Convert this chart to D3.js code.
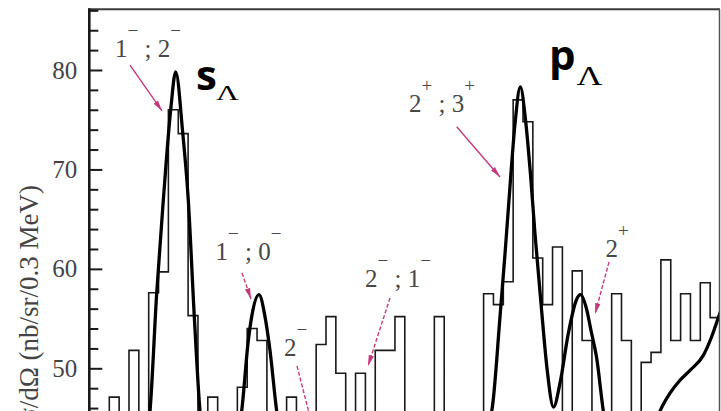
<!DOCTYPE html>
<html>
<head>
<meta charset="utf-8">
<script src="https://cdn.jsdelivr.net/npm/d3@7"></script>
<style>
  html, body { margin: 0; padding: 0; background: #fff; }
  svg { display: block; }
</style>
</head>
<body>
<svg id="chart" width="721" height="411"></svg>
<script>
// Missing-energy window (MeV) and histogram binning
const energyRange = [-14.0, 5.2];
const binWidth = 0.3;

// Measured cross section per 0.3 MeV bin (nb/sr/0.3 MeV)
const histCounts = [
  43.0, 44.0, 47.1, 44.0, 51.8, 45.0, 57.6, 59.7, 76.0, 73.6,
  55.3, 44.0, 47.1, 43.0, 44.0, 48.1, 54.0, 52.8, 44.0, 42.0,
  47.1, 44.0, 43.0, 52.4, 55.2, 49.5, 45.0, 49.5, 44.0, 51.8,
  51.8, 55.2, 44.0, 42.0, 43.0, 55.2, 44.0, 42.0, 43.0, 45.0,
  57.5, 56.4, 58.7, 77.0, 74.8, 61.1, 56.4, 62.2, 44.0, 59.8,
  52.8, 44.0, 45.0, 57.5, 52.8, 44.0, 50.6, 51.6, 60.9, 52.8,
  57.5, 52.8, 58.6, 55.1
];

// Fitted line shape
const fitEnergy = [
  -14.0, -12.77, -12.374, -12.16, -11.956, -11.755, -11.53, -11.378, -11.164, -10.994,
  -10.811, -10.638, -10.424, -9.968, -9.572, -9.368, -9.166, -9.063, -8.841, -8.658,
  -8.506, -8.302, -8.079, -7.592, -7.135, -6.526, -5.521, -4.546, -3.328, -2.262,
  -1.753, -1.50, -1.348, -1.196, -1.043, -0.882, -0.724, -0.572, -0.434, -0.251,
  -0.069, 0.129, 0.327, 0.580, 0.829, 0.951, 1.140, 1.271, 1.445, 1.646,
  1.911, 2.459, 3.007, 3.373, 3.677, 3.982, 4.287, 4.692, 4.948, 5.149, 5.353
];
const fitValue = [
  41.0, 41.0, 41.5, 45.7, 57.6, 66.9, 76.0, 79.8, 73.7, 66.9,
  55.2, 45.7, 41.3, 40.5, 42.0, 45.7, 52.8, 55.2, 57.4, 55.2,
  51.8, 45.7, 41.5, 41.5, 43.0, 41.5, 43.5, 41.5, 40.5, 41.5,
  45.7, 55.2, 61.5, 68.3, 74.6, 78.3, 75.0, 69.5, 63.5, 56.5,
  50.0, 46.1, 48.5, 53.5, 56.9, 57.4, 55.9, 53.8, 51.0, 45.7,
  41.0, 39.5, 42.0, 45.7, 47.5, 48.8, 49.8, 51.3, 53.2, 55.1, 57.0
];

// Y axis ticks
const majorTicks = [50, 60, 70, 80];
const minorTicks = [46, 48, 52, 54, 56, 58, 62, 64, 66, 68, 72, 74, 76, 78, 82, 84, 86];
const yTitle = "dσ/dΩ (nb/sr/0.3 MeV)";

// Spin-parity assignments: label pieces, label anchor, arrow tail and tip (energy, value)
const stateLabels = [
  { parts: [["1", 0], ["−", 1], [" ; ", 0], ["2", 0], ["−", 1]], at: [-13.226, 81.31], tail: [-12.770, 80.50], tip: [-11.795, 75.88], dashed: false },
  { parts: [["1", 0], ["−", 1], [" ; ", 0], ["0", 0], ["−", 1]], at: [-10.165, 60.89], tail: [-9.358, 59.58], tip: [-9.084, 56.97], dashed: true },
  { parts: [["2", 0], ["−", 1]], at: [-8.079, 51.24], tail: [-7.683, 50.23], tip: [-7.105, 42.79], dashed: true },
  { parts: [["2", 0], ["−", 1], [" ; ", 0], ["1", 0], ["−", 1]], at: [-5.612, 58.18], tail: [-4.851, 57.07], tip: [-5.521, 50.23], dashed: true },
  { parts: [["2", 0], ["+", 1], [" ; ", 0], ["3", 0], ["+", 1]], at: [-4.272, 75.81], tail: [-2.819, 74.30], tip: [-1.500, 69.24], dashed: false },
  { parts: [["2", 0], ["+", 1]], at: [1.713, 61.22], tail: [1.820, 60.69], tip: [1.393, 55.46], dashed: true }
];

// Shell labels for the Lambda orbit
const shellLabels = [
  { orbit: "s", at: [-10.759, 77.99], sub: { size: 22, len: 23, dy: 10, dx: -1 } },
  { orbit: "p", at: [-0.010, 80.0], sub: { size: 28, len: 26, dy: 15, dx: 1 } }
];

const svg = d3.select("#chart");
const W = 721, H = 411;
const plot = { left: 89.6, right: 720, top: 9.3 };

const x = d3.scaleLinear().domain(energyRange).range([plot.left, plot.right]);
const y = d3.scaleLinear().domain([50, 80]).range([368.3, 70]);

svg.append("rect").attr("width", W).attr("height", H).attr("fill", "#fff");

svg.append("defs").append("clipPath").attr("id", "plotClip")
  .append("rect")
  .attr("x", plot.left).attr("y", plot.top)
  .attr("width", plot.right - plot.left).attr("height", 600);

const magenta = "#c53a7c";
svg.select("defs").append("marker")
  .attr("id", "arrowHead")
  .attr("viewBox", "0 0 10 6")
  .attr("refX", 10).attr("refY", 3)
  .attr("markerWidth", 11).attr("markerHeight", 6.5)
  .attr("markerUnits", "userSpaceOnUse")
  .attr("orient", "auto")
  .append("path")
  .attr("d", "M0,0.5 L10,3 L0,5.5 Z")
  .attr("fill", magenta);

// Histogram (step outline)
const histPoints = histCounts.map((v, i) => [energyRange[0] + i * binWidth, v]);
histPoints.push([energyRange[0] + histCounts.length * binWidth, histCounts[histCounts.length - 1]]);

const g = svg.append("g").attr("clip-path", "url(#plotClip)");

g.append("path")
  .datum(histPoints)
  .attr("fill", "none")
  .attr("stroke", "#1a1a1a")
  .attr("stroke-width", 1.6)
  .attr("d", d3.line().x(d => x(d[0])).y(d => y(d[1])).curve(d3.curveStepAfter));

// Fit curve
const fitPoints = fitEnergy.map((e, i) => [e, fitValue[i]]);
g.append("path")
  .datum(fitPoints)
  .attr("fill", "none")
  .attr("stroke", "#000")
  .attr("stroke-width", 3.3)
  .attr("stroke-linejoin", "round")
  .attr("d", d3.line().x(d => x(d[0])).y(d => y(d[1])).curve(d3.curveMonotoneX));

// Frame
svg.append("line")
  .attr("x1", plot.left - 1).attr("x2", plot.right).attr("y1", plot.top).attr("y2", plot.top)
  .attr("stroke", "#3a3a3a").attr("stroke-width", 2);
svg.append("line")
  .attr("x1", 719.5).attr("x2", 719.5).attr("y1", plot.top).attr("y2", H)
  .attr("stroke", "#555").attr("stroke-width", 1.5);
svg.append("line")
  .attr("x1", 89.3).attr("x2", 89.3).attr("y1", plot.top - 1).attr("y2", H)
  .attr("stroke", "#1a1a1a").attr("stroke-width", 2.6);

// Y axis: major ticks with labels, minor ticks inside the frame
const axisG = svg.append("g").attr("transform", "translate(89.3,0)");
const majorAxis = axisG.append("g").call(
  d3.axisLeft(y).tickValues(majorTicks).tickSize(-13).tickPadding(12).tickFormat(d3.format("d"))
);
axisG.append("g").call(
  d3.axisLeft(y).tickValues(minorTicks).tickSize(-9).tickFormat("")
);
axisG.selectAll(".domain").remove();
axisG.selectAll(".tick line").attr("stroke", "#1a1a1a").attr("stroke-width", 2);
majorAxis.selectAll(".tick text")
  .attr("font-family", "'Liberation Serif', 'Times New Roman', serif")
  .attr("font-size", 25)
  .attr("fill", "#444");

// Y axis title
svg.append("text")
  .attr("transform", "translate(38,185) rotate(-90)")
  .attr("text-anchor", "end")
  .attr("font-family", "'Liberation Serif', 'Times New Roman', serif")
  .attr("font-size", 27)
  .attr("fill", "#444")
  .text(yTitle);

// Spin-parity labels with arrows
stateLabels.forEach(s => {
  svg.append("line")
    .attr("x1", x(s.tail[0])).attr("y1", y(s.tail[1]))
    .attr("x2", x(s.tip[0])).attr("y2", y(s.tip[1]))
    .attr("stroke", magenta)
    .attr("stroke-width", 1.4)
    .attr("stroke-dasharray", s.dashed ? "4,2" : null)
    .attr("marker-end", "url(#arrowHead)");

  const t = svg.append("text")
    .attr("x", x(s.at[0])).attr("y", y(s.at[1]))
    .attr("font-family", "'Liberation Serif', 'Times New Roman', serif")
    .attr("font-size", 25)
    .attr("fill", "#484848")
    .attr("xml:space", "preserve");
  let raised = false;
  s.parts.forEach(([str, sup]) => {
    const ts = t.append("tspan").text(str);
    if (sup && !raised) { ts.attr("dy", -20).attr("font-size", 19); raised = true; }
    else if (sup) { ts.attr("font-size", 19); }
    else if (raised) { ts.attr("dy", 20); raised = false; }
  });
});

// Orbit labels s_Λ, p_Λ
shellLabels.forEach(s => {
  const t = svg.append("text")
    .attr("x", x(s.at[0])).attr("y", y(s.at[1]))
    .attr("fill", "#000");
  t.append("tspan")
    .attr("font-family", "'Open Sans', 'Liberation Sans', Arial, sans-serif")
    .attr("font-weight", 700)
    .attr("font-size", 42)
    .text(s.orbit);
  t.append("tspan")
    .attr("dx", s.sub.dx)
    .attr("dy", s.sub.dy)
    .attr("font-family", "'Liberation Serif', 'Times New Roman', serif")
    .attr("font-size", s.sub.size)
    .attr("textLength", s.sub.len)
    .attr("lengthAdjust", "spacingAndGlyphs")
    .text("Λ");
});
</script>
</body>
</html>
